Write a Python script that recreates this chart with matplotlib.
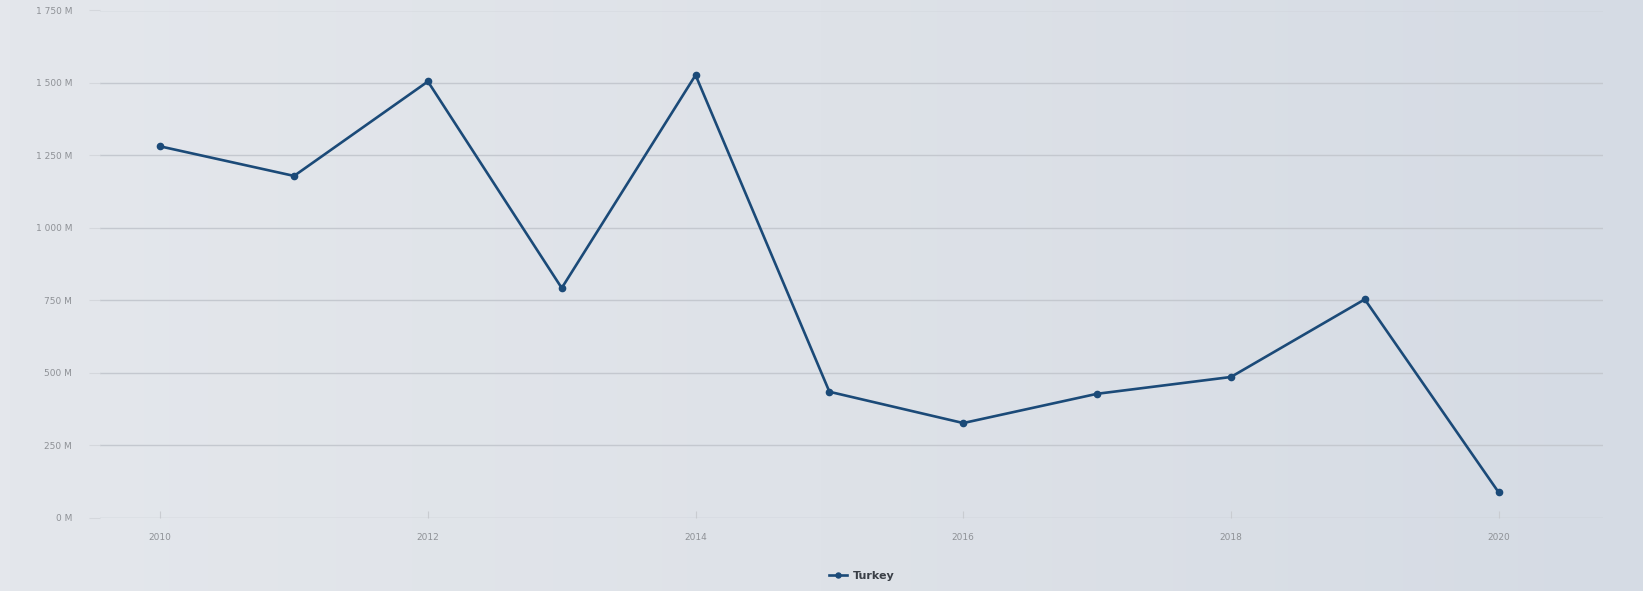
import numpy as np
import matplotlib
matplotlib.use("Agg")
import matplotlib.pyplot as plt
from matplotlib.ticker import FuncFormatter

# ------------------------------------------------------------------ data
years = [2010, 2011, 2012, 2013, 2014, 2015, 2016, 2017, 2018, 2019, 2020]
turkey = [1281, 1179, 1505, 792, 1527, 434, 326, 427, 485, 753, 87]  # millions
x_ticks = [2010, 2012, 2014, 2016, 2018, 2020]
y_ticks = [0, 250, 500, 750, 1000, 1250, 1500, 1750]
series_name = "Turkey"

LINE_COLOR = "#1b4a78"
BG = "#dfe3ea"


def fmt_m(v, _pos):
    v = int(round(v))
    s = f"{v:,}".replace(",", " ")
    return f"{s} M"


# ------------------------------------------------------------------ plot
fig = plt.figure(figsize=(16.43, 5.91), dpi=100)
fig.patch.set_facecolor(BG)

# soft background wash (lighter left, bluer right)
bg = fig.add_axes([0, 0, 1, 1], zorder=-10)
grad = np.linspace(0, 1, 256)[None, :]
bg.imshow(grad, aspect="auto", extent=[0, 1, 0, 1], interpolation="bilinear",
          cmap=matplotlib.colors.LinearSegmentedColormap.from_list(
              "wash", ["#e4e7ec", "#dee2e8", "#d5dbe4"]))
bg.set_xlim(0, 1)
bg.set_ylim(0, 1)
bg.axis("off")

ax = fig.add_axes([100 / 1643, 73.5 / 591, 1503 / 1643, 507 / 591])
ax.set_facecolor("none")

ax.plot(years, turkey, color=LINE_COLOR, linewidth=1.9,
        marker="o", markersize=4.5, label=series_name, zorder=3)

ax.set_xlim(2009.55, 2020.78)
ax.set_ylim(0, 1750)
ax.set_xticks(x_ticks)
ax.set_yticks(y_ticks)
ax.yaxis.set_major_formatter(FuncFormatter(fmt_m))

ax.grid(axis="y", color="#c4c8cf", linewidth=1.0)
ax.set_axisbelow(True)
for sp in ax.spines.values():
    sp.set_visible(False)

ax.tick_params(axis="y", length=8, color="#d4d7dc", labelsize=6.5,
               labelcolor="#8e9196", pad=12)
ax.tick_params(axis="x", length=5, color="#c9ccd1", labelsize=6.5,
               labelcolor="#8e9196", pad=11, direction="in")

leg = ax.legend(loc="upper center", bbox_to_anchor=(0.507, -0.085),
                frameon=False, fontsize=8, handlelength=1.6,
                handletextpad=0.5, markerscale=0.8)
for t in leg.get_texts():
    t.set_color("#3a3f47")
    t.set_fontweight("bold")

fig.savefig("out.png", dpi=100, facecolor=fig.get_facecolor())
